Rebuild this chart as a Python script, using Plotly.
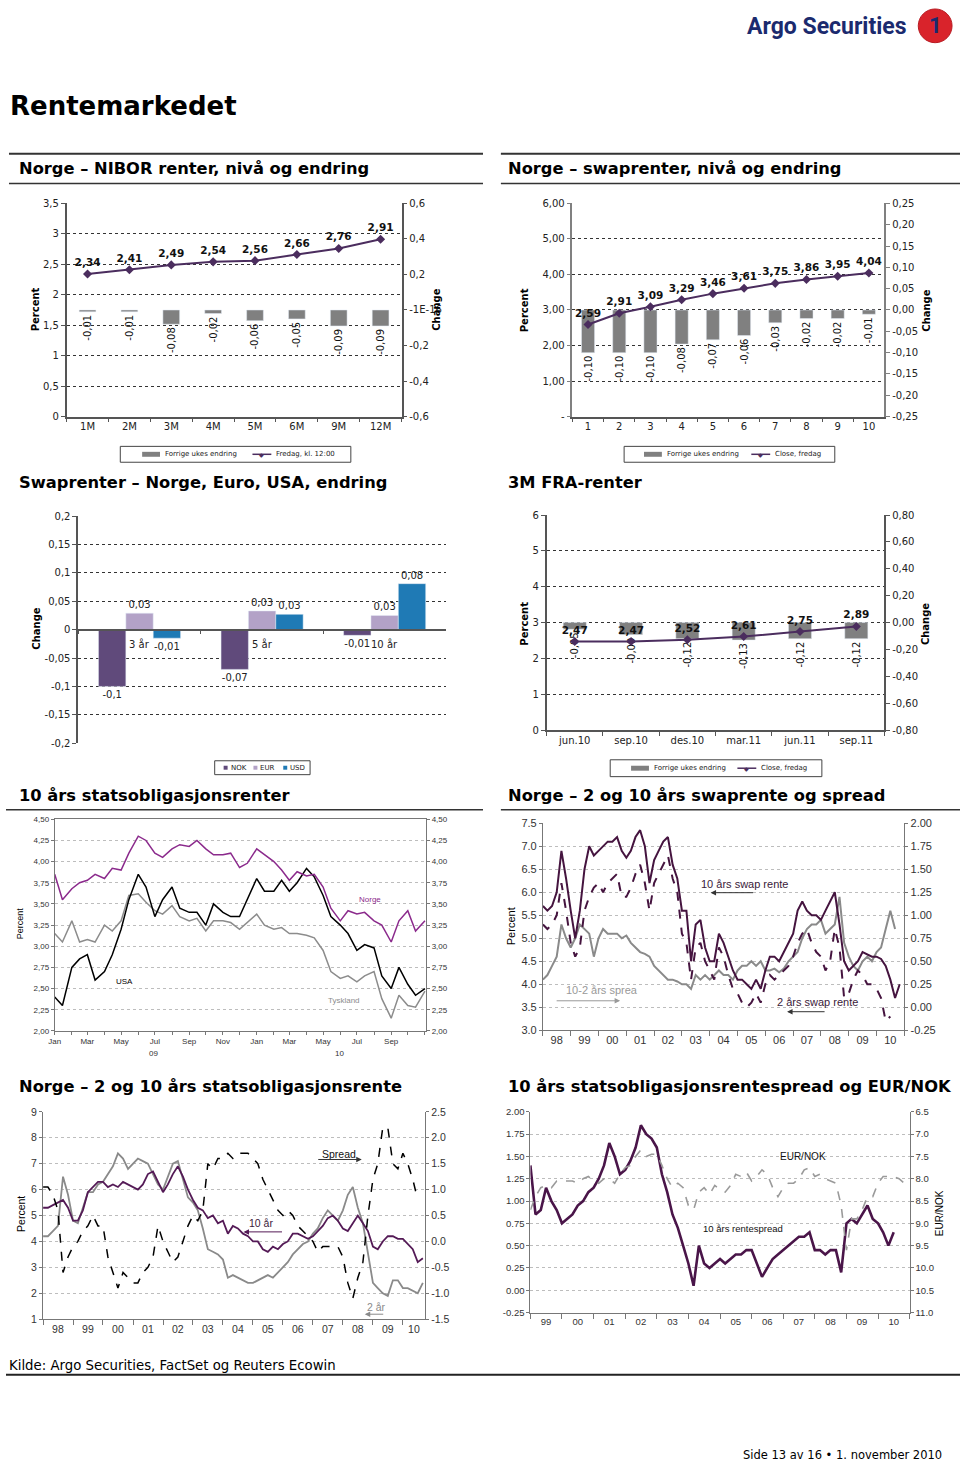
import plotly.graph_objects as go
import pandas as pd

W, H = 960, 1467
def px(x): return x / W
def py(y): return 1 - y / H

F1 = "DejaVu Sans"
F2 = "Liberation Sans"
PURPLE = "#4b2d5e"
BARGRAY = "#808080"
DARK = "#222222"

# ---------------- DATA ----------------
nibor_tenors = ["1M", "2M", "3M", "4M", "5M", "6M", "9M", "12M"]
nibor_level = [2.34, 2.41, 2.49, 2.54, 2.56, 2.66, 2.76, 2.91]
nibor_change = [-0.01, -0.01, -0.08, -0.02, -0.06, -0.05, -0.09, -0.09]

swap_tenors = ["1", "2", "3", "4", "5", "6", "7", "8", "9", "10"]
swap_level = [2.59, 2.91, 3.09, 3.29, 3.46, 3.61, 3.75, 3.86, 3.95, 4.04]
swap_change = [-0.10, -0.10, -0.10, -0.08, -0.07, -0.06, -0.03, -0.02, -0.02, -0.01]

swchg_groups = ["3 år", "5 år", "10 år"]
swchg_nok = [-0.10, -0.07, -0.01]
swchg_eur = [0.029, 0.033, 0.025]
swchg_usd = [-0.015, 0.027, 0.081]

fra_months = ["jun.10", "sep.10", "des.10", "mar.11", "jun.11", "sep.11"]
fra_level = [2.47, 2.47, 2.52, 2.61, 2.75, 2.89]
fra_change = [-0.05, -0.09, -0.12, -0.13, -0.12, -0.12]

# 10 års statsobligasjonsrenter (semi-monthly, Jan 2009 - Nov 2010)
gov10_norge = [3.85, 3.55, 3.68, 3.75, 3.78, 3.85, 3.80, 3.92, 3.90, 4.10,
               4.30, 4.25, 4.10, 4.05, 4.15, 4.20, 4.18, 4.25, 4.15, 4.08,
               4.08, 4.10, 3.93, 3.98, 4.15, 4.08, 4.00, 3.90, 3.78, 3.88,
               3.83, 3.85, 3.70, 3.45, 3.30, 3.42, 3.38, 3.40, 3.30, 3.25,
               3.05, 3.30, 3.42, 3.18, 3.30]
gov10_usa = [2.40, 2.30, 2.75, 2.85, 2.90, 2.60, 2.70, 2.90, 3.20, 3.55,
             3.85, 3.70, 3.35, 3.55, 3.70, 3.45, 3.40, 3.40, 3.25, 3.50,
             3.40, 3.35, 3.35, 3.55, 3.80, 3.65, 3.65, 3.78, 3.65, 3.75,
             3.92, 3.82, 3.60, 3.35, 3.25, 3.15, 2.95, 3.02, 2.98, 2.65,
             2.50, 2.75, 2.55, 2.42, 2.50]
gov10_tysk = [3.15, 3.05, 3.30, 3.05, 3.08, 3.05, 3.25, 3.18, 3.30, 3.60,
              3.62, 3.52, 3.42, 3.38, 3.48, 3.35, 3.30, 3.33, 3.18, 3.30,
              3.30, 3.28, 3.20, 3.28, 3.38, 3.25, 3.20, 3.22, 3.15, 3.15,
              3.13, 3.10, 2.95, 2.70, 2.62, 2.65, 2.58, 2.65, 2.70, 2.38,
              2.15, 2.42, 2.30, 2.28, 2.47]
gov10_months = ["Jan", "", "Mar", "", "May", "", "Jul", "", "Sep", "", "Nov", "",
                "Jan", "", "Mar", "", "May", "", "Jul", "", "Sep", "", ""]

# Norge 2 og 10 års swaprente og spread (bi-monthly, 1998 - 2010)
swap10y = [5.7, 5.6, 5.7, 6.0, 6.9, 6.3, 5.6, 5.0, 5.6, 6.5, 7.0, 6.8,
           6.9, 7.0, 7.1, 7.1, 7.2, 6.9, 6.75, 6.9, 7.2, 7.35, 7.0, 6.2,
           6.7, 6.9, 7.1, 7.2, 6.6, 6.3, 5.6, 5.6, 4.5, 5.3, 5.4, 4.8,
           4.5, 4.5, 5.1, 4.9, 4.6, 4.3, 4.1, 4.1, 4.0, 3.9, 4.1, 3.9,
           4.3, 4.6, 4.6, 4.5, 4.7, 4.9, 5.1, 5.6, 5.8, 5.6, 5.5, 5.5,
           5.4, 5.6, 5.8, 6.0, 5.3, 4.5, 4.3, 4.4, 4.5, 4.7, 4.65, 4.6,
           4.6, 4.55, 4.4, 4.1, 3.7, 4.0]
swap2y = [5.3, 5.2, 5.3, 5.5, 6.2, 5.6, 4.9, 4.6, 4.8, 5.6, 5.9, 6.1,
          6.2, 6.0, 6.2, 6.3, 6.4, 5.9, 5.9, 6.1, 6.4, 6.6, 6.2, 5.6,
          6.2, 6.4, 6.6, 6.8, 6.3, 6.0, 5.1, 4.9, 4.1, 4.8, 4.9, 4.5,
          4.3, 4.1, 4.8, 4.6, 4.2, 3.9, 3.8, 3.6, 3.5, 3.6, 3.8, 3.6,
          4.0, 4.2, 4.1, 4.2, 4.3, 4.4, 4.6, 4.9, 5.1, 5.2, 4.9, 4.7,
          4.6, 4.3, 4.5, 5.2, 4.8, 3.7, 3.8, 4.1, 4.3, 4.2, 4.0, 4.0,
          3.9, 3.7, 3.2, 3.3, None, None]
swap_spread = [0.30, 0.35, 0.45, 0.55, 0.90, 0.75, 0.65, 0.75, 0.90, 0.85, 0.80, 0.55,
               0.75, 0.85, 0.80, 0.80, 0.80, 0.75, 0.78, 0.70, 0.65, 0.60, 0.58, 0.55,
               0.45, 0.40, 0.35, 0.30, 0.30, 0.28, 0.25, 0.25, 0.20, 0.35, 0.30, 0.35,
               0.30, 0.35, 0.40, 0.35, 0.35, 0.30, 0.40, 0.45, 0.45, 0.50, 0.45, 0.50,
               0.40, 0.40, 0.42, 0.38, 0.42, 0.50, 0.55, 0.60, 0.75, 0.85, 0.90, 0.90,
               0.95, 0.80, 0.85, 0.90, 1.20, 0.70, 0.55, 0.45, 0.40, 0.50, 0.55, 0.50,
               0.60, 0.65, 0.85, 1.05, 0.85, None]

# Norge 2 og 10 års statsobligasjonsrente (bi-monthly, 1998 - Sep 2010)
gov_10y = [5.3, 5.3, 5.4, 5.5, 5.6, 5.3, 4.8, 4.8, 5.2, 5.9, 6.1, 6.3,
           6.3, 6.1, 6.2, 6.1, 6.3, 6.2, 6.1, 6.0, 6.2, 6.6, 6.7, 6.3,
           5.9, 6.2, 6.6, 6.9, 6.5, 6.0, 5.6, 5.3, 5.2, 4.9, 5.0, 4.7,
           4.8, 4.3, 4.6, 4.5, 4.3, 4.2, 4.0, 4.0, 3.7, 3.6, 3.8, 3.7,
           3.9, 4.0, 4.3, 4.3, 4.2, 4.1, 4.2, 4.4, 4.6, 4.9, 5.0, 4.8,
           4.5, 4.4, 4.7, 5.0, 4.7, 4.4, 3.8, 3.7, 4.0, 4.2, 4.2, 4.1,
           4.1, 3.9, 3.7, 3.2, 3.35]
gov_2y = [4.2, 4.2, 4.4, 4.6, 6.5, 5.8, 4.8, 4.7, 5.3, 5.9, 5.9, 6.2,
          6.3, 6.6, 6.9, 7.4, 7.2, 6.8, 7.0, 7.2, 7.1, 7.0, 6.6, 6.2,
          6.0, 6.5, 7.0, 7.1, 6.4, 5.7, 5.5, 5.2, 4.5, 3.7, 3.6, 3.5,
          3.3, 2.6, 2.7, 2.6, 2.5, 2.4, 2.4, 2.5, 2.6, 2.7, 2.6, 2.8,
          3.0, 3.2, 3.5, 3.7, 3.9, 4.0, 4.3, 4.5, 4.9, 5.2, 5.0, 4.8,
          5.2, 5.8, 6.1, 5.3, 4.7, 3.6, 2.4, 2.2, 2.0, 1.9, 2.5, 2.5,
          2.2, 2.2, 2.1, 2.0, 2.4]
gov_spread = [1.05, 1.05, 0.9, 0.6, -0.6, -0.3, -0.1, 0.0, 0.2, 0.3, 0.5, 0.3,
              0.3, -0.3, -0.6, -0.9, -0.6, -0.7, -0.8, -0.8, -0.6, -0.5, -0.3, 0.3,
              0.0, -0.2, -0.4, -0.3, 0.0, 0.3, 0.5, 0.4, 0.6, 1.5, 1.4, 1.6,
              1.6, 1.7, 1.6, 1.7, 1.7, 1.7, 1.6, 1.5, 1.2, 1.0, 0.8, 0.6,
              0.5, 0.6, 0.5, 0.3, 0.2, 0.1, 0.0, -0.2, -0.1, -0.1, -0.1, -0.1,
              -0.3, -0.8, -1.1, -0.7, -0.4, 0.5, 1.2, 1.5, 2.2, 2.2, 1.5, 1.4,
              1.7, 1.5, 1.2, 0.8, None]

# 10 års rentespread og EUR/NOK (bi-monthly, 1999 - 2010)
rentespread = [1.4, 0.85, 0.9, 1.15, 1.0, 0.9, 0.75, 0.8, 0.85, 0.95, 1.0, 1.1,
               1.15, 1.25, 1.4, 1.65, 1.5, 1.3, 1.35, 1.45, 1.6, 1.85, 1.75, 1.7,
               1.6, 1.3, 1.1, 0.85, 0.7, 0.5, 0.3, 0.05, 0.5, 0.3, 0.25, 0.3,
               0.35, 0.3, 0.35, 0.4, 0.4, 0.45, 0.45, 0.3, 0.15, 0.25, 0.35, 0.4,
               0.45, 0.5, 0.55, 0.6, 0.6, 0.65, 0.45, 0.45, 0.4, 0.45, 0.45, 0.2,
               0.75, 0.8, 0.75, 0.85, 0.95, 0.8, 0.75, 0.65, 0.5, 0.65, None, None]
eurnok = [8.7, 8.4, 8.2, 8.15, 8.2, 8.05, 8.05, 8.05, 8.05, 8.1, 8.0, 7.95,
          8.05, 8.1, 8.0, 8.0, 8.1, 7.9, 7.75, 7.7, 7.5, 7.35, 7.5, 7.45,
          7.45, 7.7, 8.0, 8.2, 8.1, 8.2, 8.6, 8.7, 8.3, 8.2, 8.35, 8.15,
          8.25, 8.3, 8.15, 7.9, 7.95, 7.85, 8.05, 7.95, 7.8, 7.9, 8.2, 8.4,
          8.2, 8.1, 8.1, 8.0, 7.8, 7.75, 7.95, 7.9, 8.0, 8.05, 8.1, 8.6,
          9.6, 8.9, 8.9, 8.7, 8.4, 8.4, 8.1, 7.95, 7.95, 7.95, 8.0, 8.1]

yy_labels_98 = ["98", "99", "00", "01", "02", "03", "04", "05", "06", "07", "08", "09", "10"]
yy_labels_99 = ["99", "00", "01", "02", "03", "04", "05", "06", "07", "08", "09", "10"]

# ---------------- HELPERS ----------------
def comma(v, nd=2):
    return f"{v:.{nd}f}".replace(".", ",")

def gfmt(v):
    s = f"{round(v, 2):.2f}".rstrip("0").rstrip(".")
    return s.replace(".", ",")

def nums(vals, nd):
    return [f"{v:.{nd}f}".replace(".", ",") if nd > 0 else str(int(v)) for v in vals]

fig = go.Figure()
ann = []
shapes = []

def txt(x, y, s, size, color="#000", family=F1, xanchor="left", yanchor="middle", angle=0):
    ann.append(dict(x=px(x), y=py(y), xref="paper", yref="paper", text=s, showarrow=False,
                    font=dict(family=family, size=size, color=color),
                    xanchor=xanchor, yanchor=yanchor, textangle=angle))

def hline(x0, x1, y, w=1, color="#333"):
    shapes.append(dict(type="line", xref="paper", yref="paper", x0=px(x0), x1=px(x1),
                       y0=py(y), y1=py(y), line=dict(color=color, width=w)))

def rect(x0, x1, y0, y1, fill=None, line_color="#555", lw=1):
    shapes.append(dict(type="rect", xref="paper", yref="paper", x0=px(x0), x1=px(x1),
                       y0=py(y1), y1=py(y0), fillcolor=fill if fill else "rgba(0,0,0,0)",
                       line=dict(color=line_color, width=lw if line_color else 0)))

def arrow(x_tail, x_head, y, color):
    ann.append(dict(x=px(x_head), y=py(y), xref="paper", yref="paper", ax=x_tail - x_head, ay=0,
                    axref="pixel", ayref="pixel", text="", showarrow=True, arrowhead=2,
                    arrowsize=1.1, arrowwidth=1, arrowcolor=color))

tickf1 = dict(family=F1, size=10, color=DARK)
gridA = dict(showgrid=True, gridcolor="#333", griddash="dot", gridwidth=1)
gridB = dict(showgrid=True, gridcolor="#bdbdbd", griddash="dot", gridwidth=1)
LBL = dict(family=F1, size=10.5, color="#111")
ROT = dict(family=F1, size=10, color="#111")

# ---------------- CHART 1: NIBOR ----------------
fig.add_trace(go.Bar(x=nibor_tenors, y=nibor_change, xaxis="x", yaxis="y", marker_color=BARGRAY,
                     width=0.4, text=[comma(v) for v in nibor_change], textposition="outside",
                     textangle=-90, textfont=ROT, cliponaxis=False, constraintext="none"))
fig.add_trace(go.Scatter(x=nibor_tenors, y=nibor_level, xaxis="x", yaxis="y2",
                         mode="lines+markers+text", line=dict(color=PURPLE, width=2),
                         marker=dict(symbol="diamond", size=7, color=PURPLE),
                         text=[f"<b>{comma(v)}</b>" for v in nibor_level], textposition="top center",
                         textfont=LBL, cliponaxis=False))

c1_left = [0, 0.5, 1, 1.5, 2, 2.5, 3, 3.5]
c1_left_t = ["0", "0,5", "1", "1,5", "2", "2,5", "3", "3,5"]
c1_right = [-0.6, -0.4, -0.2, 0, 0.2, 0.4, 0.6]
c1_right_t = ["-0,6", "-0,4", "-0,2", "-1E-16", "0,2", "0,4", "0,6"]

# ---------------- CHART 2: swap ----------------
fig.add_trace(go.Bar(x=swap_tenors, y=swap_change, xaxis="x2", yaxis="y3", marker_color=BARGRAY,
                     width=0.42, text=[comma(v) for v in swap_change], textposition="outside",
                     textangle=-90, textfont=ROT, cliponaxis=False, constraintext="none"))
fig.add_trace(go.Scatter(x=swap_tenors, y=swap_level, xaxis="x2", yaxis="y4",
                         mode="lines+markers+text", line=dict(color=PURPLE, width=2),
                         marker=dict(symbol="diamond", size=7, color=PURPLE),
                         text=[f"<b>{comma(v)}</b>" for v in swap_level], textposition="top center",
                         textfont=LBL, cliponaxis=False))
c2_left = [0, 1, 2, 3, 4, 5, 6]
c2_left_t = ["-", "1,00", "2,00", "3,00", "4,00", "5,00", "6,00"]
c2_right = [-0.25, -0.2, -0.15, -0.1, -0.05, 0, 0.05, 0.1, 0.15, 0.2, 0.25]

# ---------------- CHART 3: swap changes ----------------
for vals, col in [(swchg_nok, "#604a7b"), (swchg_eur, "#b3a2c7"), (swchg_usd, "#1f7ab5")]:
    fig.add_trace(go.Bar(x=swchg_groups, y=vals, xaxis="x3", yaxis="y5", marker_color=col,
                         text=[gfmt(v) for v in vals], textposition="outside",
                         textfont=dict(family=F1, size=10, color="#222"),
                         cliponaxis=False, constraintext="none"))
c3_vals = [-0.2, -0.15, -0.1, -0.05, 0, 0.05, 0.1, 0.15, 0.2]
c3_text = ["-0,2", "-0,15", "-0,1", "-0,05", "0", "0,05", "0,1", "0,15", "0,2"]
for g in swchg_groups:
    ann.append(dict(x=g, y=0, xref="x3", yref="y5", text=g, showarrow=False, yanchor="top",
                    yshift=-6, font=dict(family=F1, size=10, color="#222")))

# ---------------- CHART 4: FRA ----------------
fig.add_trace(go.Bar(x=fra_months, y=fra_change, xaxis="x4", yaxis="y6", marker_color=BARGRAY,
                     width=0.41, text=[comma(v) for v in fra_change], textposition="outside",
                     textangle=-90, textfont=ROT, cliponaxis=False, constraintext="none"))
fig.add_trace(go.Scatter(x=fra_months, y=fra_level, xaxis="x4", yaxis="y7",
                         mode="lines+markers+text", line=dict(color=PURPLE, width=2),
                         marker=dict(symbol="diamond", size=7, color=PURPLE),
                         text=[f"<b>{comma(v)}</b>" for v in fra_level], textposition="top center",
                         textfont=LBL, cliponaxis=False))
c4_right = [-0.8, -0.6, -0.4, -0.2, 0, 0.2, 0.4, 0.6, 0.8]

# ---------------- CHART 5: 10y gov ----------------
d5 = pd.date_range("2009-01-01", periods=len(gov10_norge), freq="SMS")
fig.add_trace(go.Scatter(x=d5, y=gov10_tysk, xaxis="x5", yaxis="y8", mode="lines",
                         line=dict(color="#8c8c8c", width=1.5)))
fig.add_trace(go.Scatter(x=d5, y=gov10_usa, xaxis="x5", yaxis="y8", mode="lines",
                         line=dict(color="#000000", width=1.5)))
fig.add_trace(go.Scatter(x=d5, y=gov10_norge, xaxis="x5", yaxis="y9", mode="lines",
                         line=dict(color="#8b2a8c", width=1.5)))
m5 = pd.date_range("2009-01-01", periods=len(gov10_months), freq="MS")
c5_vals = [2.0, 2.25, 2.5, 2.75, 3.0, 3.25, 3.5, 3.75, 4.0, 4.25, 4.5]

# ---------------- CHART 6: swap 2/10 + spread ----------------
d6 = pd.date_range("1998-01-01", periods=len(swap10y), freq="2MS")
fig.add_trace(go.Scatter(x=d6, y=swap_spread, xaxis="x6", yaxis="y10", mode="lines",
                         line=dict(color="#8a8a8a", width=2)))
fig.add_trace(go.Scatter(x=d6, y=swap2y, xaxis="x6", yaxis="y11", mode="lines",
                         line=dict(color="#45143f", width=2, dash="dash")))
fig.add_trace(go.Scatter(x=d6, y=swap10y, xaxis="x6", yaxis="y11", mode="lines",
                         line=dict(color="#45143f", width=2)))
y6_mid = [f"{1998 + i}-07-01" for i in range(len(yy_labels_98))]
y6_start = [f"{1998 + i}-01-01" for i in range(len(yy_labels_98) + 1)]

# ---------------- CHART 7: gov 2/10 + spread ----------------
d7 = pd.date_range("1998-01-01", periods=len(gov_10y), freq="2MS")
fig.add_trace(go.Scatter(x=d7, y=gov_2y, xaxis="x7", yaxis="y12", mode="lines",
                         line=dict(color="#8a8a8a", width=1.8)))
fig.add_trace(go.Scatter(x=d7, y=gov_10y, xaxis="x7", yaxis="y12", mode="lines",
                         line=dict(color="#541a56", width=1.8)))
fig.add_trace(go.Scatter(x=d7, y=gov_spread, xaxis="x7", yaxis="y13", mode="lines",
                         line=dict(color="#000000", width=1.5, dash="dash")))
y7_mid = [f"{1998 + i}-07-01" for i in range(len(yy_labels_98) - 1)] + ["2010-05-15"]
y7_start = [f"{1998 + i}-01-01" for i in range(len(yy_labels_98))]

# ---------------- CHART 8: spread + EUR/NOK ----------------
d8 = pd.date_range("1999-01-01", periods=len(rentespread), freq="2MS")
fig.add_trace(go.Scatter(x=d8, y=rentespread, xaxis="x8", yaxis="y14", mode="lines",
                         line=dict(color="#4a1549", width=2.6)))
fig.add_trace(go.Scatter(x=d8, y=eurnok, xaxis="x8", yaxis="y15", mode="lines",
                         line=dict(color="#9a9a9a", width=1.6, dash="dash")))
y8_mid = [f"{1999 + i}-07-01" for i in range(len(yy_labels_99))]
y8_start = [f"{1999 + i}-01-01" for i in range(len(yy_labels_99) + 1)]

# ---------------- LAYOUT AXES ----------------
def catx(dom, anchor, n, **kw):
    d = dict(domain=[px(dom[0]), px(dom[1])], anchor=anchor, type="category", range=[-0.5, n - 0.5],
             tickson="boundaries", ticks="outside", ticklen=4, tickcolor="#555", showline=True,
             linecolor="#555", linewidth=1.5, tickfont=tickf1, showgrid=False, zeroline=False)
    d.update(kw)
    return d

def ax_y(dom, anchor, side, rng, vals, text, grid=False, font=tickf1, lc="#555", **kw):
    d = dict(anchor=anchor, side=side, range=rng, tickmode="array", tickvals=vals, ticktext=text,
             showline=True, linecolor=lc, linewidth=1.5, ticks="outside", ticklen=4, tickcolor=lc,
             zeroline=False, tickfont=font, showgrid=False)
    if dom is not None:
        d["domain"] = [py(dom[1]), py(dom[0])]
    if grid:
        d.update(grid)
    d.update(kw)
    return d

fB = dict(family=F2, size=8, color="#333")
f6 = dict(family=F2, size=11, color="#333")
f7 = dict(family=F2, size=10.5, color="#333")
f8 = dict(family=F2, size=9.5, color="#333")

def datex(dom, anchor, rng, vals, text, starts, font, **kw):
    d = dict(domain=[px(dom[0]), px(dom[1])], anchor=anchor, type="date", range=rng,
             tickmode="array", tickvals=vals, ticktext=text, ticks="", showline=True,
             linecolor="#777", linewidth=1, tickfont=font, showgrid=False, zeroline=False,
             minor=dict(tickmode="array", tickvals=starts, ticks="outside", ticklen=5,
                        tickcolor="#777", showgrid=False))
    d.update(kw)
    return d

layout_axes = dict(
    xaxis=catx((61, 398), "y", len(nibor_tenors)),
    yaxis=ax_y((199, 414), "x", "right", [-0.6, 0.6], c1_right, c1_right_t),
    yaxis2=ax_y(None, "x", "left", [0, 3.5], c1_left, c1_left_t, grid=gridA, overlaying="y"),
    xaxis2=catx((570, 884), "y3", len(swap_tenors)),
    yaxis3=ax_y((199, 414), "x2", "right", [-0.25, 0.25], c2_right, nums(c2_right, 2), lc="#808080"),
    yaxis4=ax_y(None, "x2", "left", [0, 6], c2_left, c2_left_t, grid=gridA, overlaying="y3", lc="#808080"),
    xaxis3=catx((72.7, 442.7), "free", len(swchg_groups), position=py(628.8), showticklabels=False),
    yaxis5=ax_y((514.3, 743.3), "x3", "left", [-0.2, 0.2], c3_vals, c3_text, grid=gridA),
    xaxis4=catx((544, 884), "y6", len(fra_months)),
    yaxis6=ax_y((513.3, 730), "x4", "right", [-0.8, 0.8], c4_right, nums(c4_right, 2)),
    yaxis7=ax_y(None, "x4", "left", [0, 6], list(range(7)), [str(i) for i in range(7)], grid=gridA, overlaying="y6"),
    xaxis5=dict(domain=[px(49), px(422.7)], anchor="y8", type="date", range=["2009-01-01", "2010-11-03"],
                tickmode="array", tickvals=m5, ticktext=gov10_months, ticks="outside", ticklen=3,
                tickcolor="#777", showline=True, mirror=True, linecolor="#777", linewidth=1,
                tickfont=fB, showgrid=False, zeroline=False),
    yaxis8=ax_y((820, 1033.3), "x5", "left", [2, 4.5], c5_vals, nums(c5_vals, 2), grid=gridB, font=fB, lc="#777",
                linewidth=1, ticklen=3),
    yaxis9=ax_y(None, "x5", "right", [2, 4.5], c5_vals, nums(c5_vals, 2), font=fB, lc="#777",
                overlaying="y8", linewidth=1, ticklen=3),
    xaxis6=datex((540.3, 904), "y10", ["1998-01-01", "2011-01-01"], y6_mid, yy_labels_98, y6_start, f6),
    yaxis10=ax_y((824, 1032.7), "x6", "right", [-0.25, 2.0], [-0.25 + 0.25 * i for i in range(10)],
                 [f"{-0.25 + 0.25 * i:.2f}" for i in range(10)], font=f6, lc="#777", linewidth=1, ticklen=3),
    yaxis11=ax_y(None, "x6", "left", [3, 7.5], [3 + 0.5 * i for i in range(10)],
                 [f"{3 + 0.5 * i:.1f}" for i in range(10)], grid=gridB, font=f6, lc="#777",
                 overlaying="y10", linewidth=1, ticklen=3),
    xaxis7=datex((37.3, 421.7), "y12", ["1998-01-01", "2010-09-28"], y7_mid, yy_labels_98, y7_start, f7),
    yaxis12=ax_y((1115, 1324), "x7", "left", [1, 9], list(range(1, 10)), [str(i) for i in range(1, 10)],
                 grid=gridB, font=f7, lc="#777", linewidth=1, ticklen=3),
    yaxis13=ax_y(None, "x7", "right", [-1.5, 2.5], [-1.5 + 0.5 * i for i in range(9)],
                 [f"{-1.5 + 0.5 * i:.1f}" for i in range(9)], font=f7, lc="#777", overlaying="y12",
                 linewidth=1, ticklen=3),
    xaxis8=datex((527.7, 909.3), "y14", ["1999-01-01", "2011-01-01"], y8_mid, yy_labels_99, y8_start, f8),
    yaxis14=ax_y((1115, 1317.3), "x8", "left", [-0.25, 2.0], [-0.25 + 0.25 * i for i in range(10)],
                 [f"{-0.25 + 0.25 * i:.2f}" for i in range(10)], grid=gridB, font=f8, lc="#777",
                 linewidth=1, ticklen=3),
    yaxis15=ax_y(None, "x8", "right", [11.0, 6.5], [6.5 + 0.5 * i for i in range(10)],
                 [f"{6.5 + 0.5 * i:.1f}" for i in range(10)], font=f8, lc="#777", overlaying="y14",
                 linewidth=1, ticklen=3),
)

# ---------------- PAGE TEXT ----------------
txt(826, 21, "<b>Argo Securities</b>", 23, color="#1b2a6e", family="Roboto", xanchor="center")
shapes.append(dict(type="circle", xref="paper", yref="paper", x0=px(918), x1=px(952), y0=py(37), y1=py(3),
                   fillcolor="#d9232b", line=dict(color="#b81c23", width=1)))
txt(935, 20, "<b>1</b>", 22, color="#1b2a6e", family="Roboto", xanchor="center")

txt(2, 101, "<b>Rentemarkedet</b>", 26, color="#000")
heads = [(11, 164, "Norge – NIBOR renter, nivå og endring"), (503, 164, "Norge – swaprenter, nivå og endring"),
         (11, 480, "Swaprenter – Norge, Euro, USA, endring"), (503, 480, "3M FRA-renter"),
         (11, 796, "10 års statsobligasjonsrenter"), (503, 796, "Norge – 2 og 10 års swaprente og spread"),
         (11, 1089, "Norge – 2 og 10 års statsobligasjonsrente"),
         (503, 1089, "10 års statsobligasjonsrentespread og EUR/NOK")]
for x, y, s in heads:
    txt(x, y, f"<b>{s}</b>", 16.3, color="#000")

hline(3, 480, 149, 2, "#333")
hline(498, 960, 149, 2, "#333")
hline(3, 480, 179, 1.5, "#333")
hline(498, 960, 179, 1.5, "#333")
hline(0, 480, 810.5, 1.5, "#333")
hline(498, 960, 810.5, 1.5, "#333")
hline(0, 960, 1380, 2, "#222")

txt(1, 1371, "Kilde: Argo Securities, FactSet og Reuters Ecowin", 13.3, color="#000")
txt(740, 1461, "Side 13 av 16 • 1. november 2010", 11.5, color="#000")

# axis titles (charts 1-4)
txt(30, 306, "<b>Percent</b>", 10, xanchor="center", angle=-90)
txt(433, 306, "<b>Change</b>", 10, xanchor="center", angle=-90)
txt(522, 307, "<b>Percent</b>", 10, xanchor="center", angle=-90)
txt(926, 307, "<b>Change</b>", 10, xanchor="center", angle=-90)
txt(31, 628, "<b>Change</b>", 10, xanchor="center", angle=-90)
txt(522, 623, "<b>Percent</b>", 10, xanchor="center", angle=-90)
txt(926, 623, "<b>Change</b>", 10, xanchor="center", angle=-90)

def leg_bar_line(x0, x1, y0, y1, bx, lx, label_bar, label_line):
    yc = (y0 + y1) / 2
    rect(x0, x1, y0, y1, line_color="#444", lw=1)
    rect(bx, bx + 18, yc - 2.5, yc + 2.5, fill=BARGRAY, line_color=None, lw=0)
    txt(bx + 21, yc, label_bar, 7, color="#222")
    hline(lx, lx + 19, yc, 1.5, PURPLE)
    txt(lx + 9.5, yc, "◆", 6, color=PURPLE, xanchor="center")
    txt(lx + 22, yc, label_line, 7, color="#222")

leg_bar_line(115, 347, 444, 460, 137, 248, "Forrige ukes endring", "Fredag, kl. 12:00")
leg_bar_line(622, 834, 444, 460, 642, 750, "Forrige ukes endring", "Close, fredag")
leg_bar_line(608, 821, 760, 777, 629, 736, "Forrige ukes endring", "Close, fredag")

rect(210, 306, 761, 775, line_color="#444", lw=1)
for sx, col, lab in [(219, "#604a7b", "NOK"), (249, "#b3a2c7", "EUR"), (279, "#1f7ab5", "USD")]:
    rect(sx, sx + 4, 766, 770, fill=col, line_color=None, lw=0)
    txt(sx + 5, 768, lab, 7, color="#222")

# chart 5 texts
txt(15, 925, "Percent", 9, family=F2, xanchor="center", angle=-90)
txt(148, 1056, "09", 8, family=F2, color="#333", xanchor="center")
txt(336, 1056, "10", 8, family=F2, color="#333", xanchor="center")
txt(366, 901, "Norge", 8, family=F2, color="#8b2a8c", xanchor="center")
txt(119, 984, "USA", 8, family=F2, color="#000", xanchor="center")
txt(340, 1003, "Tyskland", 8, family=F2, color="#8c8c8c", xanchor="center")

# chart 6 texts
txt(509, 928, "Percent", 11, family=F2, xanchor="center", angle=-90)
txt(743, 885, "10 års swap rente", 11, family=F2, color="#3a1a3a", xanchor="center")
arrow(753, 709, 894, "#333")
txt(600, 992, "10-2 års sprea", 11, family=F2, color="#999", xanchor="center")
arrow(553, 618, 1003, "#999")
txt(817, 1004, "2 års swap rente", 11, family=F2, color="#3a1a3a", xanchor="center")
arrow(825, 786, 1014, "#333")

# chart 7 texts
txt(15, 1218, "Percent", 10.5, family=F2, xanchor="center", angle=-90)
txt(335, 1157, "Spread", 10.5, family=F2, color="#111", xanchor="center")
arrow(313, 358, 1163, "#333")
txt(257, 1227, "10 år", 10.5, family=F2, color="#3a1a3a", xanchor="center")
arrow(279, 239, 1236, "#541a56")
txt(373, 1312, "2 år", 10.5, family=F2, color="#8a8a8a", xanchor="center")
arrow(381, 361, 1319, "#8a8a8a")

# chart 8 texts
txt(939, 1217, "EUR/NOK", 10, family=F2, xanchor="center", angle=-90)
txt(802, 1160, "EUR/NOK", 10, family=F2, color="#111", xanchor="center")
txt(742, 1233, "10 års rentespread", 9.5, family=F2, color="#111", xanchor="center")

fig.update_layout(
    width=W, height=H, margin=dict(l=0, r=0, t=0, b=0), autosize=False,
    paper_bgcolor="white", plot_bgcolor="white", showlegend=False,
    barmode="group", bargap=0.33, bargroupgap=0,
    annotations=ann, shapes=shapes, font=dict(family=F1), **layout_axes
)

fig.write_html(
    "out.html",
    config={"displayModeBar": False},
    post_script=("document.body.style.margin='0';document.body.style.padding='0';"
                 "document.body.style.overflow='hidden';"
                 "document.documentElement.style.overflow='hidden';"),
)
